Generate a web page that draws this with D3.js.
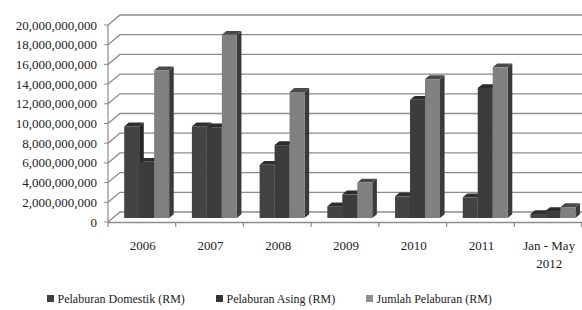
<!DOCTYPE html>
<html><head><meta charset="utf-8">
<script src="https://cdn.jsdelivr.net/npm/d3@7"></script>
<style>html,body{margin:0;padding:0;background:#fff}svg{display:block}</style>
</head><body>
<script>
const categories = ["2006","2007","2008","2009","2010","2011","Jan - May|2012"];
const domestik = [9.3e9, 9.3e9, 5.4e9, 1.2e9, 2.2e9, 2.1e9, 0.4e9];
const asing    = [5.7e9, 9.2e9, 7.4e9, 2.4e9, 12.0e9, 13.2e9, 0.7e9];
const jumlah   = [15.0e9, 18.6e9, 12.8e9, 3.6e9, 14.1e9, 15.3e9, 1.1e9];
const seriesNames = ["Pelaburan Domestik (RM)", "Pelaburan Asing (RM)", "Jumlah Pelaburan (RM)"];
const yTicks = d3.range(0, 20e9 + 1, 2e9);

const W = 582, H = 310;
const FF = "Liberation Serif, Times New Roman, serif";
const svg = d3.select("body").append("svg").attr("width", W).attr("height", H);

const x0 = 108, x1 = 582, yBase = 222, yTop = 25;
const DX = 12, DY = -10;
const bdx = 4.8, bdy = -4;
const sdx = 4.6, sdy = -3.8;

const y = d3.scaleLinear().domain([0, 20e9]).range([yBase, yTop]);
const xb = d3.scaleBand().domain(categories).range([x0, x1]).padding(0);
const xs = d3.scaleBand().domain([0,1,2]).range([0, xb.bandwidth()]).paddingOuter(0.76).paddingInner(0);

const grid = svg.append("g");
const gridColor = "#8c8c8c";
yTicks.forEach(t => {
  const yy = y(t);
  grid.append("path")
    .attr("d", `M${x0},${yy} L${x0+DX},${yy+DY} L${x1},${yy+DY}`)
    .attr("fill", "none").attr("stroke", gridColor).attr("stroke-width", 1.3);
  grid.append("line").attr("x1", x0-4).attr("x2", x0).attr("y1", yy).attr("y2", yy)
    .attr("stroke", gridColor).attr("stroke-width", 1);
  svg.append("text").attr("x", 97).attr("y", yy + 4.5)
    .attr("text-anchor", "end").attr("font-family", FF).attr("font-size", 13)
    .attr("fill", "#222").text(d3.format(",")(t));
});
grid.append("line").attr("x1", x0).attr("x2", x0).attr("y1", yTop).attr("y2", yBase+1)
  .attr("stroke", gridColor).attr("stroke-width", 1.2);
grid.append("line").attr("x1", x0).attr("x2", x1).attr("y1", yBase+0.5).attr("y2", yBase+0.5)
  .attr("stroke", gridColor).attr("stroke-width", 1.3);
categories.forEach(c => {
  const xx = xb(c);
  grid.append("line").attr("x1", xx).attr("x2", xx).attr("y1", yBase).attr("y2", yBase+5)
    .attr("stroke", gridColor).attr("stroke-width", 1.2);
});
grid.append("line").attr("x1", x1-0.5).attr("x2", x1-0.5).attr("y1", yBase).attr("y2", yBase+5)
  .attr("stroke", gridColor).attr("stroke-width", 1.2);

categories.forEach(c => {
  const cx = xb(c) + xb.bandwidth()/2 + 1;
  const t = svg.append("text").attr("x", cx).attr("y", 250)
    .attr("text-anchor", "middle").attr("font-family", FF).attr("font-size", 13).attr("fill", "#222");
  c.split("|").forEach((p, i) => t.append("tspan").attr("x", cx).attr("dy", i ? 17.8 : 0).text(p));
});

const colors = [
  {front: "#434343", top: "#2f2f2f", side: "#262626"},
  {front: "#3c3c3c", top: "#2b2b2b", side: "#222222"},
  {front: "#808080", top: "#4a4a4a", side: "#3a3a3a"}
];
const data = [domestik, asing, jumlah];
const bars = svg.append("g");
categories.forEach((c, ci) => {
  data.forEach((arr, si) => {
    const v = arr[ci];
    const xl = xb(c) + xs(si) + bdx, xr = xl + xs.bandwidth();
    const yt = y(v) + bdy, yb = y(0) + bdy;
    const col = colors[si];
    bars.append("path").attr("d", `M${xr},${yt} L${xr+sdx},${yt+sdy} L${xr+sdx},${yb+sdy} L${xr},${yb} Z`).attr("fill", col.side);
    bars.append("path").attr("d", `M${xl},${yt} L${xl+sdx},${yt+sdy} L${xr+sdx},${yt+sdy} L${xr},${yt} Z`).attr("fill", col.top);
    bars.append("rect").attr("x", xl).attr("y", yt).attr("width", xs.bandwidth()).attr("height", yb - yt).attr("fill", col.front);
  });
});

const legX = [47, 216, 366];
const legColors = ["#404040", "#363636", "#8f8f8f"];
seriesNames.forEach((n, i) => {
  svg.append("rect").attr("x", legX[i]).attr("y", 295).attr("width", 7).attr("height", 7).attr("fill", legColors[i]);
  svg.append("text").attr("x", legX[i] + 10.5).attr("y", 302.5)
    .attr("font-family", FF).attr("font-size", 12).attr("fill", "#222").text(n);
});
</script>
</body></html>
